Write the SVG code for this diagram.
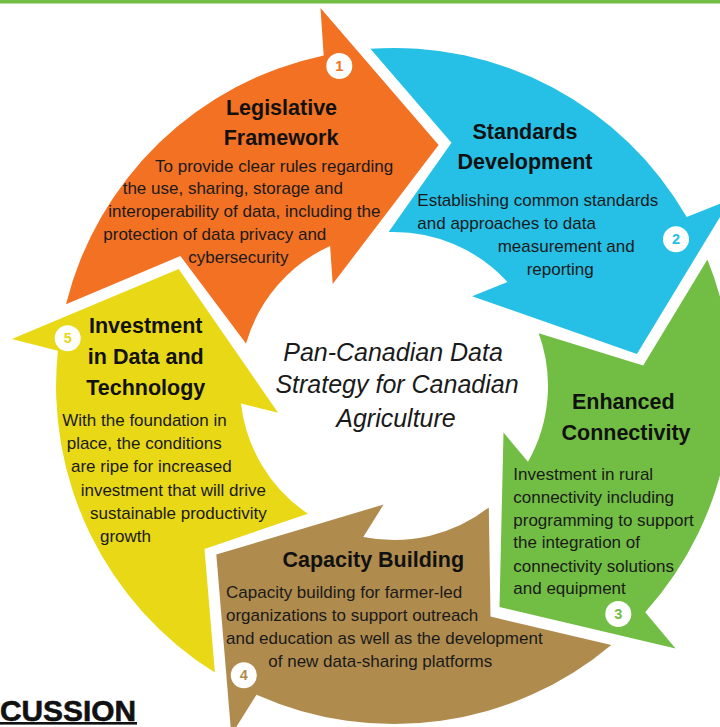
<svg xmlns="http://www.w3.org/2000/svg" width="720" height="727" viewBox="0 0 720 727">
<style>
.t{font-family:"Liberation Sans",Arial,Helvetica,sans-serif;font-weight:bold;font-size:21.5px;fill:#111;text-anchor:middle}
.b{font-family:"Liberation Sans",Arial,Helvetica,sans-serif;font-size:17px;fill:#1a1a1a}
.c{font-family:"Liberation Sans",Arial,Helvetica,sans-serif;font-style:italic;font-size:25px;fill:#1a1a1a;text-anchor:middle}
.n{font-family:"Liberation Sans",Arial,Helvetica,sans-serif;font-weight:bold;font-size:14.5px;text-anchor:middle}
.badge{fill:#fff}
</style>
<rect width="720" height="727" fill="#fff"/>
<rect x="0" y="0" width="720" height="3.5" fill="#72BE44"/>

<g id="legislative-framework">
<path d="M66.0,304.2 A338,338 0 0 1 323.7,55.4 L320.5,8.1 L438.6,145.1 L332.7,284.0 L330.1,245.9 A154,154 0 0 0 246.0,343.6 L180.4,256.1 Z" fill="#F27123"/>
<text class="t" x="281.5" y="115">Legislative</text>
<text class="t" x="281" y="145">Framework</text>
<text class="b" x="155" y="171.7">To provide clear rules regarding</text>
<text class="b" x="122.7" y="194.3">the use, sharing, storage and</text>
<text class="b" x="108.3" y="216.7">interoperability of data, including the</text>
<text class="b" x="103.3" y="240">protection of data privacy and</text>
<text class="b" x="188.3" y="263.3">cybersecurity</text>
<circle class="badge" cx="339.3" cy="66" r="13"/>
<text class="n" x="339.3" y="71" fill="#F27123">1</text>
</g>

<g id="standards-development">
<path d="M370.4,48.8 A338,338 0 0 1 686.7,217.0 L730.7,199.4 L636.9,354.0 L472.1,296.2 L507.5,282.0 A154,154 0 0 0 388.6,232.1 L451.5,142.7 Z" fill="#26C0E6"/>
<text class="t" x="525" y="138.5">Standards</text>
<text class="t" x="525" y="168.5">Development</text>
<text class="b" x="417.3" y="205.7">Establishing common standards</text>
<text class="b" x="417.3" y="229">and approaches to data</text>
<text class="b" x="497.7" y="251.7">measurement and</text>
<text class="b" x="526.7" y="274.5">reporting</text>
<circle class="badge" cx="676" cy="239.3" r="13"/>
<text class="n" x="676" y="244.3" fill="#26C0E6">2</text>
</g>

<g id="enhanced-connectivity">
<path d="M707.4,259.4 A338,338 0 0 1 645.2,612.2 L675.6,648.6 L499.5,607.1 L503.5,432.5 L528.0,461.8 A154,154 0 0 0 538.7,333.3 L643.2,365.5 Z" fill="#72BE44"/>
<text class="t" x="623.3" y="408.5">Enhanced</text>
<text class="t" x="626" y="439.5">Connectivity</text>
<text class="b" x="513.3" y="480">Investment in rural</text>
<text class="b" x="513.3" y="502.7">connectivity including</text>
<text class="b" x="513.3" y="525.7">programming to support</text>
<text class="b" x="513.3" y="548.3">the integration of</text>
<text class="b" x="513.3" y="571.7">connectivity solutions</text>
<text class="b" x="513.3" y="594.3">and equipment</text>
<circle class="badge" cx="618.3" cy="614" r="13"/>
<text class="n" x="618.3" y="619" fill="#72BE44">3</text>
</g>

<g id="capacity-building">
<path d="M611.3,644.9 A338,338 0 0 1 256.5,694.8 L231.3,734.9 L216.3,554.6 L383.6,504.5 L363.3,536.9 A154,154 0 0 0 488.8,507.4 L490.5,616.6 Z" fill="#B08B4E"/>
<text class="t" x="373.3" y="566.5">Capacity Building</text>
<text class="b" x="226" y="598.3">Capacity building for farmer-led</text>
<text class="b" x="226" y="621">organizations to support outreach</text>
<text class="b" x="226" y="644">and education as well as the development</text>
<text class="b" x="268.3" y="666.7">of new data-sharing platforms</text>
<circle class="badge" cx="243.8" cy="675.3" r="13"/>
<text class="n" x="243.8" y="680.3" fill="#B08B4E">4</text>
</g>

<g id="investment-data-technology">
<path d="M214.9,672.6 A338,338 0 0 1 57.9,350.7 L11.9,339.1 L178.7,269.1 L278.1,412.8 L241.0,403.4 A154,154 0 0 0 307.9,513.7 L204.5,549.0 Z" fill="#E8D816"/>
<text class="t" x="145.7" y="332.7">Investment</text>
<text class="t" x="145.8" y="364">in Data and</text>
<text class="t" x="145.8" y="394.5">Technology</text>
<text class="b" x="62.3" y="425.7">With the foundation in</text>
<text class="b" x="66.7" y="449">place, the conditions</text>
<text class="b" x="71" y="472.3">are ripe for increased</text>
<text class="b" x="80.7" y="495.7">investment that will drive</text>
<text class="b" x="90" y="519">sustainable productivity</text>
<text class="b" x="100" y="541.7">growth</text>
<circle class="badge" cx="67.7" cy="338.3" r="13"/>
<text class="n" x="67.7" y="343.3" fill="#E8D816">5</text>
</g>

<g id="center-title">
<text class="c" x="393" y="361">Pan-Canadian Data</text>
<text class="c" x="397" y="393">Strategy for Canadian</text>
<text class="c" x="396" y="427">Agriculture</text>
</g>

<g id="section-heading">
<text x="0" y="721" font-family="'Liberation Sans',Arial,sans-serif" font-weight="bold" font-size="29.5" fill="#111" stroke="#111" stroke-width="0.6" textLength="136" lengthAdjust="spacingAndGlyphs">CUSSION</text>
<rect x="0" y="722" width="137" height="2.6" fill="#111"/>
</g>
</svg>
